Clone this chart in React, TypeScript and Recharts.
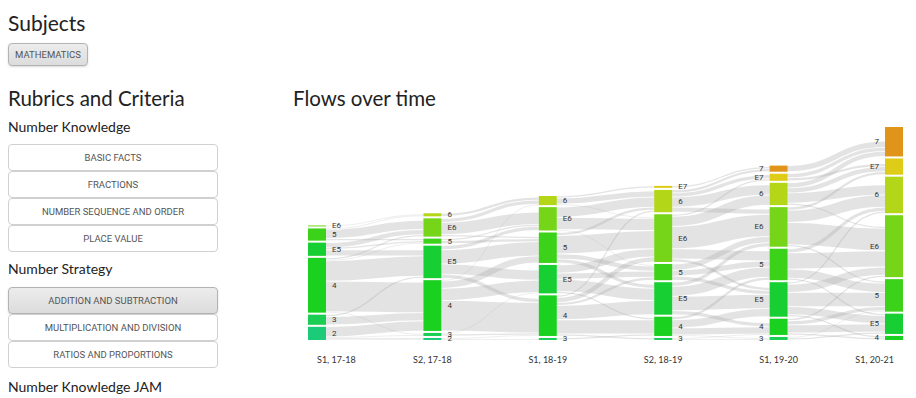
import React from "react";
import { Sankey } from "recharts";

const PERIODS = ["S1, 17-18", "S2, 17-18", "S1, 18-19", "S2, 18-19", "S1, 19-20", "S1, 20-21"];

const LEVEL_COLORS: Record<string, string> = {
  "2": "#1ccb78",
  "3": "#1bcd52",
  "4": "#1bd11f",
  E5: "#18cf33",
  "5": "#3cd219",
  E6: "#76d519",
  "6": "#b4d619",
  E7: "#dfcc19",
  "7": "#e0951a",
};

// levels present in each period, bottom to top
const PERIOD_LEVELS = [
  ["2", "3", "4", "E5", "5", "E6"],
  ["2", "3", "4", "E5", "5", "E6", "6"],
  ["3", "4", "E5", "5", "E6", "6"],
  ["3", "4", "E5", "5", "E6", "6", "E7"],
  ["3", "4", "E5", "5", "E6", "6", "E7", "7"],
  ["4", "E5", "5", "E6", "6", "E7", "7"],
];

// students moving between consecutive periods: [from, to, count]
const FLOWS_1: [string, string, number][] = [
  ["E6", "6", 1],
  ["5", "E6", 9], ["5", "6", 1], ["5", "5", 2],
  ["E5", "E6", 5], ["E5", "E5", 6], ["E5", "5", 2],
  ["4", "4", 30], ["4", "E5", 20], ["4", "E6", 2], ["4", "5", 1], ["4", "3", 1],
  ["3", "4", 8], ["3", "E5", 2],
  ["2", "4", 10], ["2", "3", 1], ["2", "2", 2],
];
const FLOWS_2: [string, string, number][] = [
  ["6", "6", 3],
  ["E6", "6", 4], ["E6", "E6", 12], ["E6", "5", 2],
  ["5", "E6", 2], ["5", "5", 3],
  ["E5", "5", 14], ["E5", "E6", 4], ["E5", "E5", 10], ["E5", "4", 4],
  ["4", "4", 30], ["4", "E5", 12], ["4", "5", 7], ["4", "6", 1],
  ["3", "4", 2], ["3", "E5", 1],
  ["2", "3", 1], ["2", "4", 1],
];
const FLOWS_3: [string, string, number][] = [
  ["6", "E7", 2], ["6", "6", 6], ["6", "E6", 1],
  ["E6", "6", 10], ["E6", "E6", 12], ["E6", "5", 1],
  ["5", "E6", 18], ["5", "6", 3], ["5", "5", 5], ["5", "E5", 4],
  ["E5", "E6", 8], ["E5", "5", 6], ["E5", "E5", 12], ["E5", "4", 2],
  ["4", "E5", 14], ["4", "4", 14], ["4", "5", 3], ["4", "E6", 5], ["4", "3", 2], ["4", "6", 2],
  ["3", "4", 2],
];
const FLOWS_4: [string, string, number][] = [
  ["E7", "7", 2],
  ["6", "7", 3], ["6", "E7", 4], ["6", "6", 10], ["6", "E6", 5],
  ["E6", "E7", 2], ["E6", "6", 10], ["E6", "E6", 22], ["E6", "5", 10], ["E6", "E5", 3],
  ["5", "E6", 6], ["5", "5", 6], ["5", "E5", 4],
  ["E5", "E6", 4], ["E5", "5", 10], ["E5", "E5", 14], ["E5", "4", 4],
  ["4", "5", 3], ["4", "E5", 8], ["4", "4", 7], ["4", "3", 1],
  ["3", "4", 1], ["3", "3", 1],
];
const FLOWS_5: [string, string, number][] = [
  ["7", "7", 6],
  ["E7", "7", 4], ["E7", "E7", 3],
  ["6", "7", 5], ["6", "E7", 5], ["6", "6", 10], ["6", "E6", 2],
  ["E6", "E7", 3], ["E6", "6", 12], ["E6", "E6", 22], ["E6", "5", 2],
  ["5", "6", 4], ["5", "E6", 16], ["5", "5", 9], ["5", "E5", 2],
  ["E5", "6", 2], ["E5", "E6", 8], ["E5", "5", 14], ["E5", "E5", 8], ["E5", "4", 2],
  ["4", "E6", 2], ["4", "5", 4], ["4", "E5", 8], ["4", "4", 2],
  ["3", "E5", 2], ["3", "5", 1],
];
const FLOWS = [FLOWS_1, FLOWS_2, FLOWS_3, FLOWS_4, FLOWS_5];

// students who join in the last period: [level, count]
const NEW_STUDENTS: [string, number][] = [["7", 14], ["E7", 5], ["6", 8], ["E6", 11], ["5", 2]];

function buildData() {
  const nodes: any[] = [];
  const index: Record<string, number> = {};
  PERIOD_LEVELS.forEach((levels, p) => {
    levels.forEach((lv, i) => {
      index[`${p}-${lv}`] = nodes.length;
      nodes.push({ name: lv, period: p, first: i === 0 });
    });
  });
  // hidden helper nodes, used only to feed the students who join later
  const hidden: number[] = [];
  for (let p = 0; p < PERIODS.length - 1; p++) {
    hidden.push(nodes.length);
    nodes.push({ name: "", period: p, hidden: true });
  }
  const links: any[] = [];
  FLOWS.forEach((flows, p) => {
    flows.forEach(([from, to, value]) => {
      links.push({ source: index[`${p}-${from}`], target: index[`${p + 1}-${to}`], value });
    });
  });
  for (let p = 0; p < hidden.length - 1; p++) {
    links.push({ source: hidden[p], target: hidden[p + 1], value: 0.01 });
  }
  const last = PERIODS.length - 1;
  NEW_STUDENTS.forEach(([lv, value]) => {
    links.push({ source: hidden[hidden.length - 1], target: index[`${last}-${lv}`], value });
  });
  return { nodes, links };
}

const DATA = buildData();

// the chart is drawn flipped (columns grow from the bottom), so text is flipped back
const flipText = (cy: number) => `translate(0 ${2 * cy}) scale(1 -1)`;

function FlowNode(props: any) {
  const { x, y, width, height, payload } = props;
  if (payload.hidden) return <g />;
  const leftSide = payload.period >= 4;
  const cy = y + height / 2;
  const p = payload.period;
  const ly = y - 19;
  const anchor = p === 0 ? "start" : p === PERIODS.length - 1 ? "end" : "middle";
  return (
    <g>
      <rect x={x} y={y} width={width} height={height} fill={LEVEL_COLORS[payload.name]} />
      <text
        transform={flipText(cy)}
        x={leftSide ? x - 6 : x + width + 6}
        y={cy}
        textAnchor={leftSide ? "end" : "start"}
        dominantBaseline="central"
        fontSize={8}
        fontFamily="Roboto, sans-serif"
        fill="#333"
      >
        {payload.name}
      </text>
      {payload.first && (
        <text
          transform={flipText(ly)}
          x={x + width / 2}
          y={ly}
          textAnchor={anchor}
          dominantBaseline="central"
          fontSize={9}
          fontFamily="Lato, sans-serif"
          fill="#333"
        >
          {PERIODS[p]}
        </text>
      )}
    </g>
  );
}

function FlowLink(props: any) {
  const { sourceX, targetX, sourceY, targetY, sourceControlX, targetControlX, linkWidth, payload } = props;
  if (payload.source.hidden || payload.target.hidden) return <g />;
  return (
    <path
      d={`M${sourceX},${sourceY} C${sourceControlX},${sourceY} ${targetControlX},${targetY} ${targetX},${targetY}`}
      fill="none"
      stroke="#a8a8a8"
      strokeOpacity={0.32}
      strokeWidth={Math.max(linkWidth - 0.8, 0.6)}
    />
  );
}

const heading = (size: number): React.CSSProperties => ({
  position: "absolute",
  left: 8,
  fontFamily: "Lato, sans-serif",
  fontSize: size,
  color: "#222",
  whiteSpace: "nowrap",
  lineHeight: 1,
});

function Btn({ label, top, width = 210, height = 27, active = false }: any) {
  return (
    <div
      style={{
        position: "absolute",
        left: 8,
        top,
        width,
        height,
        boxSizing: "border-box",
        border: `1px solid ${active ? "#b3b3b3" : "#d0d0d0"}`,
        borderRadius: 4,
        background: active ? "linear-gradient(#ececec, #dcdcdc)" : "#fff",
        boxShadow: active ? "0 1px 2px rgba(0,0,0,0.15)" : "none",
        display: "flex",
        alignItems: "center",
        justifyContent: "center",
        fontFamily: "Roboto, sans-serif",
        fontSize: 9.5,
        color: "#555",
      }}
    >
      {label}
    </div>
  );
}

export default function App() {
  return (
    <div style={{ position: "absolute", left: 0, top: 0, width: 916, height: 398, background: "#fff", overflow: "hidden" }}>
      <div style={{ ...heading(21), top: 12 }}>Subjects</div>
      <Btn label="MATHEMATICS" top={43} width={80} height={23} active />
      <div style={{ ...heading(20.5), top: 88 }}>Rubrics and Criteria</div>
      <div style={{ ...heading(14), top: 120 }}>Number Knowledge</div>
      <Btn label="BASIC FACTS" top={144} />
      <Btn label="FRACTIONS" top={171} />
      <Btn label="NUMBER SEQUENCE AND ORDER" top={198} />
      <Btn label="PLACE VALUE" top={225} />
      <div style={{ ...heading(14), top: 262 }}>Number Strategy</div>
      <Btn label="ADDITION AND SUBTRACTION" top={287} active />
      <Btn label="MULTIPLICATION AND DIVISION" top={314} />
      <Btn label="RATIOS AND PROPORTIONS" top={341} />
      <div style={{ ...heading(14), top: 380 }}>Number Knowledge JAM</div>

      <div style={{ ...heading(20.5), left: 293, top: 88 }}>Flows over time</div>

      <div style={{ position: "absolute", left: 300, top: 119, width: 612, height: 251, transform: "scaleY(-1)" }}>
        <Sankey
          width={612}
          height={251}
          data={DATA}
          nodeWidth={18}
          nodePadding={2}
          iterations={0}
          margin={{ top: 30, bottom: 4, left: 8, right: 9 }}
          node={FlowNode}
          link={FlowLink}
        />
      </div>
    </div>
  );
}
